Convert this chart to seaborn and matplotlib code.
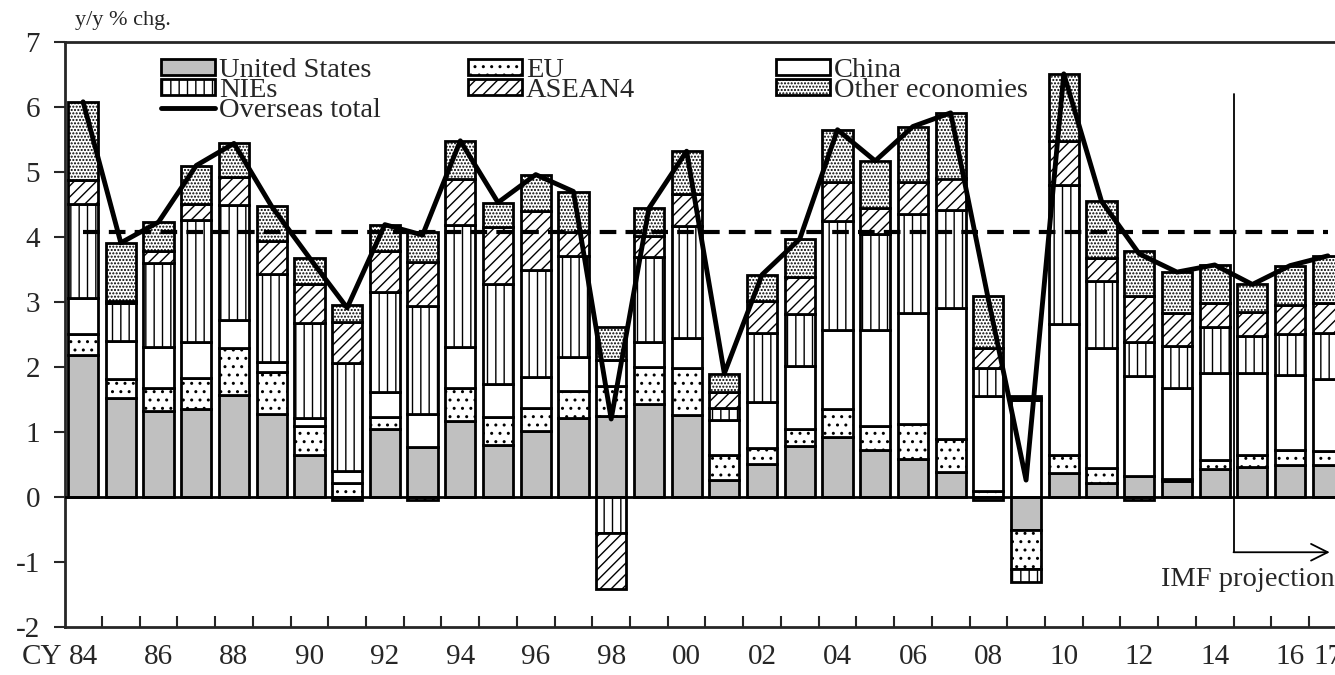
import numpy as np
import pandas as pd
import seaborn as sns
import matplotlib
matplotlib.use("Agg")
from matplotlib import pyplot as plt
from matplotlib.patches import Patch, FancyArrowPatch
from matplotlib.lines import Line2D

# contributions to overseas growth, % points
years = np.arange(1984, 2018)
united_states = [2.18, 1.52, 1.33, 1.36, 1.57, 1.27, 0.65, -0.04, 1.05, 0.77,
                 1.17, 0.80, 1.02, 1.21, 1.24, 1.43, 1.26, 0.26, 0.51, 0.79,
                 0.93, 0.73, 0.58, 0.39, -0.05, -0.50, 0.37, 0.22, 0.33, 0.24,
                 0.43, 0.46, 0.50, 0.50]
eu = [0.33, 0.30, 0.34, 0.47, 0.72, 0.65, 0.44, 0.21, 0.18, -0.04,
      0.50, 0.43, 0.35, 0.42, 0.47, 0.57, 0.72, 0.39, 0.25, 0.26,
      0.42, 0.36, 0.55, 0.50, 0.09, -0.61, 0.27, 0.22, -0.05, 0.04,
      0.14, 0.18, 0.23, 0.21]
china = [0.55, 0.58, 0.64, 0.56, 0.43, 0.15, 0.13, 0.19, 0.38, 0.50,
         0.64, 0.51, 0.48, 0.52, 0.40, 0.39, 0.46, 0.54, 0.70, 0.97,
         1.22, 1.48, 1.70, 2.02, 1.47, 1.50, 2.02, 1.86, 1.53, 1.39,
         1.34, 1.27, 1.14, 1.11]
nies = [1.45, 0.58, 1.29, 1.87, 1.78, 1.36, 1.46, 1.66, 1.55, 1.67,
        1.87, 1.54, 1.64, 1.56, -0.56, 1.30, 1.73, 0.18, 1.07, 0.79,
        1.67, 1.47, 1.52, 1.50, 0.42, -0.19, 2.14, 1.03, 0.53, 0.66,
        0.70, 0.57, 0.64, 0.70]
asean4 = [0.37, 0.04, 0.18, 0.25, 0.43, 0.51, 0.59, 0.63, 0.63, 0.67,
          0.71, 0.87, 0.91, 0.36, -0.85, 0.33, 0.49, 0.24, 0.48, 0.58,
          0.61, 0.40, 0.50, 0.49, 0.32, 0.03, 0.67, 0.34, 0.70, 0.50,
          0.37, 0.37, 0.44, 0.47]
other = [1.20, 0.89, 0.45, 0.59, 0.51, 0.53, 0.41, 0.26, 0.40, 0.46,
         0.59, 0.38, 0.56, 0.63, 0.50, 0.42, 0.66, 0.29, 0.41, 0.58,
         0.80, 0.73, 0.85, 1.01, 0.79, 0.03, 1.04, 0.88, 0.70, 0.63,
         0.59, 0.42, 0.61, 0.72]
avg_growth = 4.07
proj_start = 2015

df = pd.DataFrame({
    'United States': united_states,
    'EU': eu,
    'China': china,
    'NIEs': nies,
    'ASEAN4': asean4,
    'Other economies': other,
}, index=years)
total = df.sum(axis=1)

styles = {
    'United States': dict(color='#c0c0c0', hatch=None),
    'EU': dict(color='white', hatch='..'),
    'China': dict(color='white', hatch=None),
    'NIEs': dict(color='white', hatch='||'),
    'ASEAN4': dict(color='white', hatch='///'),
    'Other economies': dict(color='white', hatch='.....'),
}

sns.set_style("ticks")
plt.rcParams['font.family'] = ['Liberation Serif', 'DejaVu Serif']
plt.rcParams['hatch.linewidth'] = 1.0
plt.rcParams['axes.unicode_minus'] = False

fig = plt.figure(figsize=(13.35, 6.75), dpi=100)
ax = fig.add_axes([65 / 1335, 48 / 675, 1 - 65 / 1335, 585 / 675])

# stacked bars, positives up from 0 and negatives down from 0
pos_base = np.zeros(len(years))
neg_base = np.zeros(len(years))
for name in df.columns:
    v = df[name].values
    bottom = np.where(v >= 0, pos_base, neg_base)
    ax.bar(years, v, bottom=bottom, width=0.8, color=styles[name]['color'],
           hatch=styles[name]['hatch'], edgecolor='black', linewidth=2, zorder=2)
    pos_base += np.clip(v, 0, None)
    neg_base += np.clip(v, None, 0)

ax.axhline(0, color='black', lw=2, zorder=3)
ax.hlines(avg_growth, years[0], years[-1], colors='black', lw=3,
          linestyles=(0, (4, 2.2)), zorder=4)
sns.lineplot(x=years, y=total.values, color='black', lw=3.5, ax=ax, zorder=5)

# IMF projection marker
px = proj_start - 0.5
ax.plot([px, px], [6.2, -0.85], color='black', lw=1.3, zorder=6)
ax.add_patch(FancyArrowPatch((px, -0.85), (years[-1] + 0.05, -0.85),
                             arrowstyle='->', mutation_scale=30, lw=1.3,
                             color='black', shrinkA=0, shrinkB=0, zorder=6))
ax.text(years[-1] + 0.18, -1.27, 'IMF projection', ha='right', va='center',
        fontsize=20.5)

ax.set_xlim(1983.52, 2017.19)
ax.set_ylim(-2, 7)
ax.set_yticks(range(-2, 8))
ax.tick_params(axis='y', direction='out', length=8, width=1.5, pad=10,
               labelsize=21)
xt = list(years[::2]) + [years[-1]]
ax.set_xticks(xt)
ax.set_xticklabels([f"{y % 100:02d}" for y in xt])
ax.set_xticks(years[:-1] + 0.5, minor=True)
ax.tick_params(axis='x', which='major', length=0, pad=12, labelsize=21)
ax.tick_params(axis='x', which='minor', direction='in', length=8, width=1.5)
for s in ['left', 'bottom', 'top']:
    ax.spines[s].set_linewidth(2)
ax.spines['right'].set_visible(False)

fig.text(22 / 1335, 1 - 657 / 675, 'CY', fontsize=21, va='center', ha='left')
fig.text(75 / 1335, 1 - 20 / 675, 'y/y % chg.', fontsize=16, va='center',
         ha='left')


def patch(name):
    return Patch(facecolor=styles[name]['color'], hatch=styles[name]['hatch'],
                 edgecolor='black', linewidth=2, label=name)


cols = [
    [patch('United States'), patch('NIEs'),
     Line2D([], [], color='black', lw=3.5, label='Overseas total')],
    [patch('EU'), patch('ASEAN4')],
    [patch('China'), patch('Other economies')],
]
for i, (hs, x0) in enumerate(zip(cols, [150, 457, 765])):
    leg = ax.legend(handles=hs, loc='upper left',
                    bbox_to_anchor=(x0 / 1335, 1 - 47 / 675),
                    bbox_transform=fig.transFigure, frameon=False,
                    fontsize=20.5, handlelength=1.9, handleheight=0.5,
                    handletextpad=0.12, labelspacing=-0.18, borderaxespad=0)
    if i < len(cols) - 1:
        ax.add_artist(leg)

fig.savefig('out.png', dpi=100)
